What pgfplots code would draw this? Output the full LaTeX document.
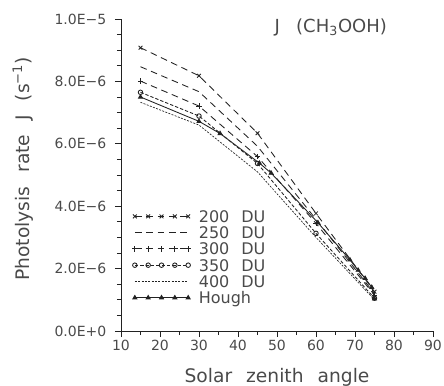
\documentclass[border=0pt]{standalone}
\usepackage{fontspec}
\setmainfont{DejaVu Sans}
\usepackage{pgfplots}
\pgfplotsset{compat=1.18}
\definecolor{ink}{HTML}{222222}
\definecolor{txt}{HTML}{4A4A4A}

% legend sample: a short run of the line with five marks on it
\pgfplotsset{
  fivemarks/.style={
    legend image code/.code={
      \draw[mark repeat=1,##1] plot coordinates {(0pt,0pt) (10pt,0pt) (20pt,0pt) (30pt,0pt) (40pt,0pt)};
    }
  }
}
\newcommand{\gap}{\hspace{0.75em}}

\begin{document}
\begin{tikzpicture}
\path[use as bounding box] (-90.75pt,-41.25pt) rectangle (242.25pt,248.25pt);
\begin{axis}[
  scale only axis,
  width=234pt, height=234pt,
  xmin=10, xmax=90, ymin=0, ymax=1e-5,
  axis x line=bottom, axis y line=left,
  axis line style={-, ink, line width=0.7pt},
  tick align=outside,
  major tick length=4.5pt, minor tick length=3pt,
  tick style={ink, line width=0.6pt},
  xtick={10,20,...,90},
  xticklabels={10,20,30,40,50,60,70,80,90},
  minor x tick num=1,
  ytick={0,2e-6,4e-6,6e-6,8e-6,1e-5},
  yticklabels={0.0E+0,2.0E−6,4.0E−6,6.0E−6,8.0E−6,1.0E−5},
  minor y tick num=3,
  scaled y ticks=false,
  /pgf/number format/assume math mode=true,
  ticklabel style={font=\fontsize{10.5}{12}\selectfont, text=txt},
  xticklabel style={yshift=1pt},
  yticklabel style={xshift=-3pt},
  xlabel={Solar\gap zenith\gap angle},
  ylabel={Photolysis\gap rate\gap J\gap (s\textsuperscript{−1})},
  label style={font=\fontsize{14}{16}\selectfont, text=txt},
  xlabel style={at={(axis description cs:0.5,-0.148)}, anchor=center},
  ylabel style={at={(axis description cs:-0.315,0.52)}, anchor=center},
  legend style={draw=none, fill=none, inner sep=0pt,
    at={(axis description cs:0.035,0.087)}, anchor=south west,
    font=\fontsize{12}{13}\selectfont, text=txt,
    nodes={inner sep=0pt, text height=8.8pt, text depth=0pt},
    row sep=3.4pt, column sep=6pt,
    cells={anchor=west}},
  legend cell align=left,
  fivemarks,
  every axis plot/.append style={ink, line width=0.65pt},
  clip=false,
]
% 200 DU
\addplot[dash pattern=on 5pt off 3.5pt, mark=x, mark size=2pt, mark options={solid}]
  coordinates {(15,9.08e-6) (30,8.18e-6) (45,6.34e-6) (60,3.77e-6) (75,1.26e-6)};
\addlegendentry{200\gap DU}
% 250 DU
\addplot[dash pattern=on 5pt off 3.5pt]
  coordinates {(15,8.47e-6) (30,7.67e-6) (45,5.92e-6) (60,3.58e-6) (75,1.20e-6)};
\addlegendentry{250\gap DU}
% 300 DU
\addplot[dash pattern=on 5pt off 3.5pt, mark=+, mark size=2pt, mark options={solid}]
  coordinates {(15,8.01e-6) (30,7.21e-6) (45,5.59e-6) (60,3.45e-6) (75,1.15e-6)};
\addlegendentry{300\gap DU}
% 350 DU
\addplot[dash pattern=on 2.5pt off 1.5pt, mark=o, mark size=1.7pt, mark options={solid, fill=white}]
  coordinates {(15,7.65e-6) (30,6.89e-6) (45,5.37e-6) (60,3.13e-6) (75,1.05e-6)};
\addlegendentry{350\gap DU}
% 400 DU
\addplot[dash pattern=on 1.5pt off 1pt, line width=0.5pt]
  coordinates {(15,7.33e-6) (30,6.60e-6) (45,5.10e-6) (60,3.00e-6) (75,1.00e-6)};
\addlegendentry{400\gap DU}
% Hough
\addplot[solid, mark=triangle*, mark size=1.7pt]
  coordinates {(15,7.50e-6) (30,6.72e-6) (35.4,6.33e-6) (45.5,5.38e-6) (48.5,5.06e-6)
               (60.5,3.47e-6) (68.7,2.28e-6) (70.8,1.95e-6) (72.6,1.69e-6) (74.3,1.40e-6) (75,1.03e-6)};
\addlegendentry{Hough}

\node[text=txt, font=\fontsize{13.5}{15}\selectfont, anchor=center] at (axis cs:63.8,9.72e-6) {J\hspace{0.9em}(CH\textsubscript{3}OOH)};
\end{axis}
\end{tikzpicture}
\end{document}
